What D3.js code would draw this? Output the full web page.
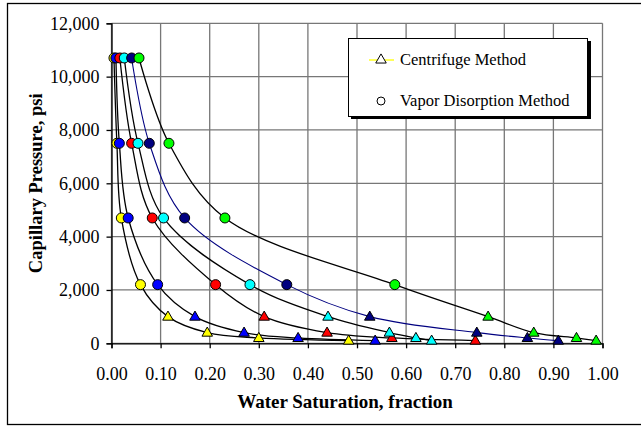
<!DOCTYPE html>
<html>
<head>
<meta charset="utf-8">
<script src="https://cdn.jsdelivr.net/npm/d3@7"></script>
<style>
body { margin: 0; background: #fff; }
text { font-family: 'Liberation Serif', 'Times New Roman', serif; fill: #000; }
</style>
</head>
<body>
<svg id="chart" width="641" height="426"></svg>
<script>
// pressure levels (psi) for each method
const vaporPressure = [10700, 7500, 4700, 2200];
const centrifugePressure = [1000, 400, 200, 100];

// one row per core sample, water saturation read at each pressure
const vaporSw = [
	[0.005, 0.011, 0.020, 0.059],
	[0.009, 0.016, 0.034, 0.094],
	[0.017, 0.041, 0.083, 0.212],
	[0.026, 0.054, 0.106, 0.282],
	[0.041, 0.077, 0.149, 0.357],
	[0.056, 0.117, 0.231, 0.577]
];
const centrifugeSw = [
	[0.115, 0.195, 0.300, 0.483],
	[0.170, 0.270, 0.380, 0.537],
	[0.311, 0.439, 0.571, 0.741],
	[0.441, 0.566, 0.620, 0.652],
	[0.526, 0.744, 0.847, 0.910],
	[0.767, 0.860, 0.947, 0.987]
];
const sampleColors = ["#ffff00", "#0000ff", "#ff0000", "#00ffff", "#000080", "#00ff00"];
const curveColors = ["#000", "#000", "#000", "#000", "#000080", "#000"];

const xTicks = [0, 0.1, 0.2, 0.3, 0.4, 0.5, 0.6, 0.7, 0.8, 0.9, 1.0];
const yTicks = [0, 2000, 4000, 6000, 8000, 10000, 12000];
const legendLabels = ["Centrifuge Method", "Vapor Disorption Method"];

const serif = "'Liberation Serif', 'Times New Roman', serif";
const svg = d3.select("#chart");
const plotLeft = 111.5, plotRight = 602.5, plotTop = 23.3, plotBottom = 343.3;

const x = d3.scaleLinear().domain([0, 1]).range([plotLeft, plotRight]);
const y = d3.scaleLinear().domain([0, 12000]).range([plotBottom, plotTop]);

// outer chart border (right side runs off the picture)
svg.append("rect")
	.attr("x", 7.5).attr("y", 3.5)
	.attr("width", 700).attr("height", 421)
	.style("fill", "none").style("stroke", "#000").style("stroke-width", 1.3);

// gridlines
svg.append("g").selectAll("line")
	.data(xTicks)
	.enter().append("line")
	.attr("x1", d => x(d)).attr("x2", d => x(d))
	.attr("y1", plotTop).attr("y2", plotBottom)
	.style("stroke", "#777").style("stroke-width", 1.3);
svg.append("g").selectAll("line")
	.data(yTicks)
	.enter().append("line")
	.attr("x1", plotLeft).attr("x2", plotRight)
	.attr("y1", d => y(d)).attr("y2", d => y(d))
	.style("stroke", "#777").style("stroke-width", 1.3);

// axes
const xAxis = d3.axisBottom(x).tickValues(xTicks).tickSize(5).tickFormat(d3.format(".2f"));
const yAxis = d3.axisLeft(y).tickValues(yTicks).tickSize(5).tickFormat(d3.format(","));

const gx = svg.append("g").attr("transform", `translate(0,${plotBottom})`).call(xAxis);
const gy = svg.append("g").attr("transform", `translate(${plotLeft},0)`).call(yAxis);
[gx, gy].forEach(g => {
	g.attr("font-family", serif);
	g.select(".domain").style("stroke", "#000").style("stroke-width", 1.3);
	g.selectAll(".tick line").style("stroke", "#000").style("stroke-width", 1.3);
	g.selectAll(".tick text").style("font-size", "18px").style("font-family", serif);
});
gx.selectAll(".tick text").attr("dy", 0).attr("y", 37);
gy.selectAll(".tick text").attr("x", -12).attr("dy", "0.33em");

// axis titles
svg.append("text")
	.attr("x", 345).attr("y", 408)
	.attr("text-anchor", "middle")
	.style("font-family", serif)
	.style("font-size", "19px").style("font-weight", "bold")
	.text("Water Saturation, fraction");
svg.append("text")
	.attr("transform", `translate(42,${(plotTop + plotBottom) / 2}) rotate(-90)`)
	.attr("text-anchor", "middle")
	.style("font-family", serif)
	.style("font-size", "18.5px").style("font-weight", "bold")
	.text("Capillary Pressure, psi");

// smoothed curve for every sample through both methods
const line = d3.line()
	.x(d => x(d.sw))
	.y(d => y(d.p))
	.curve(d3.curveCatmullRom.alpha(0.5));

const samples = vaporSw.map((row, i) => ({
	color: sampleColors[i],
	curve: curveColors[i],
	vapor: row.map((sw, j) => ({ sw: sw, p: vaporPressure[j] })),
	centrifuge: centrifugeSw[i].map((sw, j) => ({ sw: sw, p: centrifugePressure[j] }))
}));

svg.append("g").selectAll("path")
	.data(samples)
	.enter().append("path")
	.attr("d", d => line(d.vapor.concat(d.centrifuge)))
	.style("fill", "none")
	.style("stroke", d => d.curve)
	.style("stroke-width", d => d.curve === "#000" ? 1.3 : 1.1);

const tri = d3.symbol().type(d3.symbolTriangle).size(48);

samples.forEach(s => {
	const g = svg.append("g");
	g.selectAll("path")
		.data(s.centrifuge)
		.enter().append("path")
		.attr("d", tri)
		.attr("transform", d => `translate(${x(d.sw)},${y(d.p) + 0.5})`)
		.style("fill", s.color)
		.style("stroke", "#000").style("stroke-width", 1);
	g.selectAll("circle")
		.data(s.vapor)
		.enter().append("circle")
		.attr("cx", d => x(d.sw)).attr("cy", d => y(d.p))
		.attr("r", 5)
		.style("fill", s.color)
		.style("stroke", "#000").style("stroke-width", 1);
});

// legend box with drop shadow
const lg = svg.append("g");
lg.append("rect")
	.attr("x", 351).attr("y", 41).attr("width", 240).attr("height", 78)
	.style("fill", "#000");
lg.append("rect")
	.attr("x", 348.5).attr("y", 38.5).attr("width", 239).attr("height", 78)
	.style("fill", "#fff").style("stroke", "#000").style("stroke-width", 1);

lg.append("line")
	.attr("x1", 369).attr("x2", 394).attr("y1", 60).attr("y2", 60)
	.style("stroke", "#ffff00").style("stroke-width", 1.3);
lg.append("path")
	.attr("d", tri)
	.attr("transform", "translate(381,60)")
	.style("fill", "#fff").style("stroke", "#000").style("stroke-width", 1);
lg.append("circle")
	.attr("cx", 381).attr("cy", 101).attr("r", 4)
	.style("fill", "#fff").style("stroke", "#000").style("stroke-width", 1);

lg.selectAll("text.lbl")
	.data(legendLabels)
	.enter().append("text")
	.attr("class", "lbl")
	.attr("x", 400)
	.attr("y", (d, i) => 65 + i * 41)
	.style("font-family", serif)
	.style("font-size", "16.5px")
	.text(d => d);
</script>
</body>
</html>
